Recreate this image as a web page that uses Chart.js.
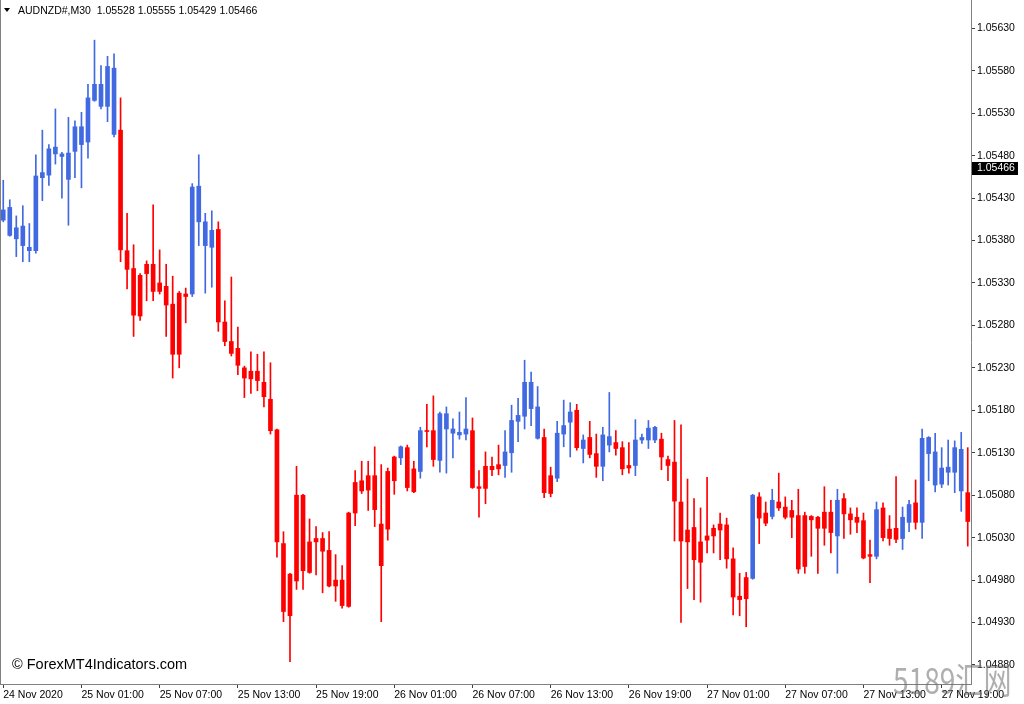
<!DOCTYPE html>
<html><head><meta charset="utf-8">
<script src="https://cdn.jsdelivr.net/npm/chart.js@4.4.1/dist/chart.umd.min.js"></script>
<style>html,body{margin:0;padding:0;background:#fff;overflow:hidden}canvas{display:block}</style>
</head><body><canvas id="c" width="1024" height="704"></canvas>
<script>
// ---- data (AUDNZD#, M30) ----
const symbolName = 'AUDNZD#,M30';
const headerOHLC = [1.05528, 1.05555, 1.05429, 1.05466];
const lastPrice = 1.05466;
const startTime = Date.UTC(2020, 10, 24, 19, 0); // first bar 24 Nov 2020 19:00
const tickLabels = ['24 Nov 2020','25 Nov 01:00','25 Nov 07:00','25 Nov 13:00','25 Nov 19:00','26 Nov 01:00','26 Nov 07:00','26 Nov 13:00','26 Nov 19:00','27 Nov 01:00','27 Nov 07:00','27 Nov 13:00','27 Nov 19:00'];
const priceTicks = [1.04880,1.04930,1.04980,1.05030,1.05080,1.05130,1.05180,1.05230,1.05280,1.05330,1.05380,1.05430,1.05480,1.05530,1.05580,1.05630];

const open = [1.05404,1.05386,1.05382,1.05374,1.05368,1.05368,1.05454,1.05457,1.05482,1.05479,
1.05452,1.05485,1.05493,1.05496,1.05545,1.05538,1.05538,1.05505,1.05510,1.05368,
1.05347,1.05339,1.05352,1.05352,1.05330,1.05326,1.05305,1.05318,1.05317,1.05317,
1.05402,1.05374,1.05372,1.05393,1.05284,1.05261,1.05253,1.05230,1.05226,1.05226,
1.05213,1.05193,1.05157,1.05023,1.04987,1.05080,1.05080,1.05025,1.05029,1.05029,
1.05015,1.04980,1.04980,1.05059,1.05095,1.05097,1.05103,1.05103,1.05046,1.05108,
1.05125,1.05124,1.05136,1.05111,1.05108,1.05156,1.05156,1.05121,1.05158,1.05153,
1.05151,1.05152,1.05156,1.05090,1.05114,1.05114,1.05116,1.05115,1.05130,1.05167,
1.05173,1.05182,1.05147,1.05148,1.05103,1.05100,1.05152,1.05166,1.05180,1.05135,
1.05148,1.05129,1.05114,1.05139,1.05142,1.05136,1.05115,1.05115,1.05145,1.05145,
1.05145,1.05146,1.05122,1.05119,1.05072,1.05039,1.05042,1.05025,1.05032,1.05041,
1.05046,1.05045,1.05005,1.04961,1.04983,1.04982,1.05078,1.05059,1.05055,1.05072,
1.05066,1.05062,1.05056,1.05056,1.05055,1.05054,1.05060,1.05060,1.05032,1.05076,
1.05058,1.05054,1.05050,1.05010,1.05008,1.05065,1.05040,1.05041,1.05029,1.05048,
1.05071,1.05048,1.05129,1.05092,1.05093,1.05107,1.05107,1.05085,1.05083];

const high = [1.05451,1.05428,1.05409,1.05421,1.05400,1.05481,1.05510,1.05493,1.05535,1.05484,
1.05525,1.05521,1.05531,1.05564,1.05616,1.05586,1.05597,1.05600,1.05548,1.05412,
1.05375,1.05341,1.05356,1.05422,1.05369,1.05352,1.05338,1.05320,1.05324,1.05447,
1.05481,1.05412,1.05415,1.05402,1.05309,1.05337,1.05278,1.05232,1.05249,1.05246,
1.05249,1.05236,1.05158,1.05037,1.04988,1.05114,1.05081,1.05052,1.05043,1.05036,
1.05037,1.05010,1.04997,1.05060,1.05109,1.05120,1.05120,1.05137,1.05116,1.05112,
1.05126,1.05138,1.05139,1.05120,1.05160,1.05187,1.05197,1.05178,1.05184,1.05170,
1.05178,1.05195,1.05171,1.05109,1.05131,1.05125,1.05139,1.05156,1.05186,1.05194,
1.05239,1.05225,1.05208,1.05158,1.05113,1.05167,1.05192,1.05189,1.05187,1.05151,
1.05167,1.05152,1.05160,1.05201,1.05156,1.05143,1.05142,1.05169,1.05152,1.05168,
1.05161,1.05153,1.05126,1.05168,1.05163,1.05099,1.05076,1.05065,1.05101,1.05045,
1.05059,1.05053,1.05018,1.04988,1.04989,1.05081,1.05083,1.05072,1.05087,1.05106,
1.05078,1.05074,1.05087,1.05060,1.05056,1.05055,1.05090,1.05074,1.05087,1.05082,
1.05065,1.05065,1.05059,1.05027,1.05072,1.05071,1.05056,1.05102,1.05066,1.05074,
1.05098,1.05158,1.05149,1.05153,1.05136,1.05145,1.05144,1.05154,1.05136];

const low = [1.05402,1.05385,1.05361,1.05355,1.05355,1.05365,1.05427,1.05445,1.05470,1.05430,
1.05398,1.05454,1.05442,1.05477,1.05544,1.05535,1.05520,1.05502,1.05355,1.05323,
1.05267,1.05286,1.05309,1.05309,1.05317,1.05267,1.05218,1.05230,1.05283,1.05314,
1.05374,1.05318,1.05325,1.05273,1.05256,1.05244,1.05222,1.05195,1.05200,1.05203,
1.05184,1.05152,1.05007,1.04931,1.04884,1.04969,1.04969,1.04988,1.04986,1.04965,
1.04972,1.04955,1.04947,1.04948,1.05044,1.05082,1.05062,1.05043,1.04931,1.05027,
1.05081,1.05116,1.05085,1.05083,1.05100,1.05137,1.05114,1.05107,1.05106,1.05124,
1.05146,1.05145,1.05088,1.05054,1.05070,1.05103,1.05104,1.05101,1.05107,1.05143,
1.05158,1.05162,1.05146,1.05077,1.05078,1.05096,1.05137,1.05125,1.05133,1.05118,
1.05124,1.05101,1.05097,1.05131,1.05127,1.05104,1.05106,1.05103,1.05141,1.05135,
1.05142,1.05110,1.05097,1.05026,1.04930,1.04970,1.04957,1.04954,1.05012,1.05012,
1.05004,1.04994,1.04939,1.04938,1.04925,1.04981,1.05023,1.05044,1.05052,1.05062,
1.05052,1.05030,1.04988,1.04988,1.05008,1.04988,1.05021,1.05012,1.04988,1.05029,
1.05034,1.05036,1.05005,1.04977,1.05005,1.05026,1.05021,1.05024,1.05016,1.05037,
1.05040,1.05029,1.05097,1.05084,1.05089,1.05092,1.05083,1.05061,1.05020];

const close = [1.05416,1.05419,1.05395,1.05397,1.05372,1.05456,1.05460,1.05488,1.05490,1.05482,
1.05483,1.05514,1.05514,1.05548,1.05564,1.05564,1.05585,1.05583,1.05369,1.05346,
1.05292,1.05291,1.05341,1.05320,1.05320,1.05304,1.05246,1.05246,1.05314,1.05443,
1.05444,1.05402,1.05392,1.05284,1.05261,1.05247,1.05233,1.05218,1.05217,1.05215,
1.05196,1.05156,1.05025,1.04943,1.04938,1.04979,1.04991,1.04989,1.05025,1.05014,
1.04973,1.04973,1.04950,1.04949,1.05059,1.05085,1.05086,1.05063,1.04997,1.05040,
1.05097,1.05137,1.05089,1.05084,1.05156,1.05155,1.05122,1.05176,1.05176,1.05158,
1.05154,1.05158,1.05089,1.05088,1.05088,1.05110,1.05111,1.05131,1.05168,1.05174,
1.05213,1.05213,1.05184,1.05083,1.05082,1.05153,1.05162,1.05178,1.05136,1.05145,
1.05128,1.05114,1.05151,1.05149,1.05135,1.05111,1.05112,1.05145,1.05148,1.05159,
1.05160,1.05125,1.05115,1.05073,1.05026,1.05025,1.05004,1.05001,1.05027,1.05032,
1.05039,1.05005,1.04960,1.04957,1.04958,1.05080,1.05053,1.05047,1.05074,1.05065,
1.05054,1.05054,1.04993,1.04996,1.05051,1.05041,1.05041,1.05036,1.05074,1.05058,
1.05051,1.05048,1.05006,1.05008,1.05063,1.05030,1.05029,1.05028,1.05054,1.05069,
1.05048,1.05147,1.05148,1.05131,1.05112,1.05113,1.05136,1.05134,1.05049];

// candle colour from the indicator: B = blue, R = red
const trend = ('BBBBBBBBBBBBBBBBBB' + 'RRRRRRRRRRR' + 'BBBB' + 'RRRRRRRRRRRRRRRRRRRRRRRRRRRR' +
  'B' + 'RR' + 'B' + 'RR' + 'BBBBB' + 'RRRRR' + 'BBBBBB' + 'RR' + 'BBB' + 'R' + 'B' + 'RR' + 'BB' +
  'RRR' + 'BBBB' + 'RRRRRRRRRRRRRR' + 'B' + 'RR' + 'B' + 'RRRRRRRRR' + 'B' + 'RRRRR' + 'B' + 'RRR' +
  'BB' + 'R' + 'BBBBBBB' + 'R').split('');

// ---- build ----
const MON = ['Jan','Feb','Mar','Apr','May','Jun','Jul','Aug','Sep','Oct','Nov','Dec'];
const categories = open.map((_, i) => {
  const d = new Date(startTime + i * 1800000);
  return d.getUTCDate() + ' ' + MON[d.getUTCMonth()] + ' ' + String(d.getUTCHours()).padStart(2,'0') + ':' + String(d.getUTCMinutes()).padStart(2,'0');
});
const BLUE = '#4169E1', RED = '#FF0000';
const colors = trend.map(t => t === 'B' ? BLUE : RED);
const bodies = open.map((o, i) => [Math.min(o, close[i]), Math.max(o, close[i])]);
const wicks = low.map((l, i) => [l, high[i]]);
const tickIdx = tickLabels.map((_, k) => k * 12);

const FONT = 'Liberation Sans';
const overlay = {
  id: 'overlay',
  afterDraw(chart) {
    const { ctx, chartArea: a, scales: { y } } = chart;
    ctx.save();
    ctx.strokeStyle = '#808080'; ctx.lineWidth = 1;
    ctx.beginPath(); ctx.moveTo(0.5, a.top); ctx.lineTo(0.5, a.bottom); ctx.stroke();
    // header
    ctx.fillStyle = '#000';
    ctx.beginPath(); ctx.moveTo(4, 8); ctx.lineTo(10, 8); ctx.lineTo(7, 12); ctx.closePath(); ctx.fill();
    ctx.font = '10.5px "' + FONT + '"'; ctx.textBaseline = 'middle'; ctx.textAlign = 'left';
    ctx.fillText(symbolName + '  ' + headerOHLC.map(v => v.toFixed(5)).join(' '), 18, 11);
    // current price label
    const py = Math.round(y.getPixelForValue(lastPrice));
    ctx.fillStyle = '#000'; ctx.fillRect(a.right + 1, py - 5, 46, 13);
    ctx.fillStyle = '#fff'; ctx.fillText(lastPrice.toFixed(5), a.right + 6, py + 1.5);
    // copyright
    ctx.fillStyle = '#000'; ctx.font = '14.5px "' + FONT + '"';
    ctx.fillText('\u00A9 ForexMT4Indicators.com', 12, 665);
    // site watermark
    ctx.save();
    ctx.translate(893, 680);
    ctx.scale(0.78, 1);
    ctx.fillStyle = 'rgba(110,110,110,0.55)'; ctx.font = '36px "Noto Sans CJK SC"';
    ctx.fillText('5189\u6C47\u7F51', 0, 0);
    ctx.restore();
    ctx.restore();
  }
};

Chart.defaults.font.family = FONT;
Chart.defaults.font.size = 10.5;
Chart.defaults.color = '#000';

new Chart(document.getElementById('c'), {
  type: 'bar',
  data: {
    labels: categories,
    datasets: [
      { label: 'body', data: bodies, backgroundColor: colors, barThickness: 4, minBarLength: 1, borderWidth: 0, grouped: false },
      { label: 'wick', data: wicks, backgroundColor: colors, barThickness: 1, minBarLength: 1, borderWidth: 0, grouped: false }
    ]
  },
  options: {
    responsive: false, animation: false, devicePixelRatio: 1,
    layout: { padding: 0 },
    plugins: { legend: { display: false }, tooltip: { enabled: false } },
    scales: {
      x: {
        offset: true,
        grid: { offset: false, drawOnChartArea: false, drawTicks: true, tickLength: 4, tickColor: '#404040' },
        border: { display: true, color: '#808080', width: 1 },
        ticks: { autoSkip: false, maxRotation: 0, minRotation: 0, align: 'start', padding: 1,
                 callback: (v, i) => tickLabels[i] },
        afterBuildTicks: s => { s.ticks = tickIdx.map(v => ({ value: v })); },
        afterFit: s => { s.height = 20; s.paddingLeft = 0; s.paddingRight = 0; }
      },
      y: {
        position: 'right', min: 1.048576, max: 1.056633,
        grid: { drawOnChartArea: false, drawTicks: true, tickLength: 4, tickColor: '#404040' },
        border: { display: true, color: '#808080', width: 1 },
        ticks: { padding: 2, callback: v => Number(v).toFixed(5) },
        afterBuildTicks: s => { s.ticks = priceTicks.map(v => ({ value: v })); },
        afterFit: s => { s.width = 53; s.paddingTop = 0; s.paddingBottom = 0; }
      }
    }
  },
  plugins: [overlay]
});
</script>
</body></html>
